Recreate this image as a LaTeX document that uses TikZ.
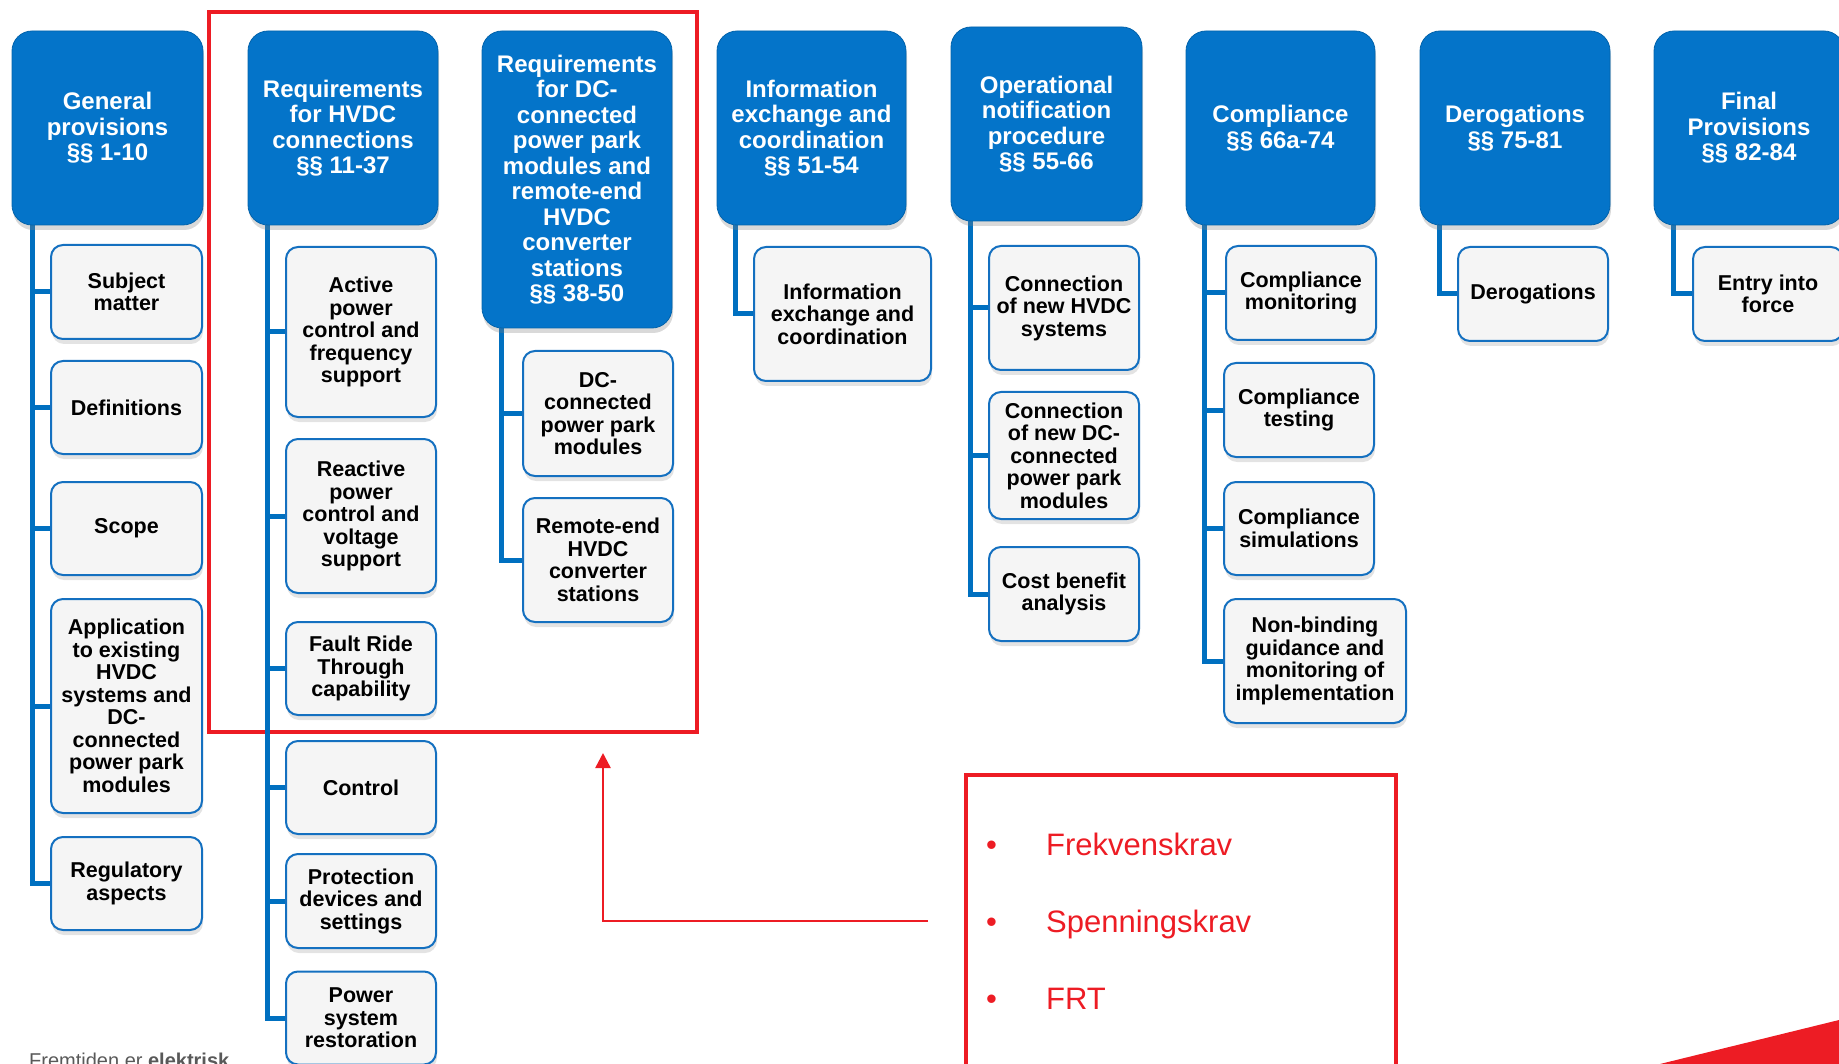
\documentclass[tikz,border=0pt]{standalone}
\usepackage{fontspec}
\setmainfont{Liberation Sans}
\usetikzlibrary{shadows,arrows.meta}
\definecolor{hblue}{RGB}{4,116,201}
\definecolor{cblue}{RGB}{0,112,192}
\definecolor{bblue}{RGB}{20,112,192}
\definecolor{cfill}{RGB}{245,245,245}
\definecolor{rred}{RGB}{237,28,36}
\definecolor{fgray}{RGB}{89,89,89}
\pgfdeclarelayer{bg}
\pgfsetlayers{bg,main}
\begin{document}
\begin{tikzpicture}[x=1pt,y=-1pt,
 hdr/.style={rectangle, rounded corners=20pt, fill=hblue, draw=hblue!85!black, line width=0.8pt,
   text=white, align=center, font=\bfseries\fontsize{24}{25.5}\selectfont, inner sep=2pt,
   drop shadow={shadow xshift=1pt, shadow yshift=-5pt, opacity=0.3}},
 chd/.style={rectangle, rounded corners=12pt, fill=cfill, draw=bblue, line width=2pt,
   text=black, align=center, font=\bfseries\fontsize{21.5}{22.5}\selectfont, inner sep=2pt,
   drop shadow={shadow xshift=1pt, shadow yshift=-5pt, opacity=0.22}},
 conn/.style={draw=cblue, line width=5pt},
 redframe/.style={draw=rred, line width=4pt},
 redarrow/.style={draw=rred, line width=2.5pt, -{Triangle[width=15pt,length=15pt]}},
 bultxt/.style={text=rred, font=\fontsize{31}{34}\selectfont, anchor=base west, inner sep=0pt},
 foot/.style={text=fgray, font=\fontsize{20}{22}\selectfont, anchor=base west, inner sep=0pt}
]
\useasboundingbox (0,0) rectangle (1839,1064);
\clip (0,0) rectangle (1839,1064);

% headers
\node[hdr, minimum width=191pt, minimum height=194pt] (gp) at (107.5,128) {General\\provisions\\§§ 1-10};
\node[hdr, minimum width=190pt, minimum height=194pt] (hv) at (343,128) {Requirements\\for HVDC\\connections\\§§ 11-37};
\node[hdr, minimum width=190pt, minimum height=297pt] (dc) at (577,179.5) {Requirements\\for DC-\\connected\\power park\\modules and\\remote-end\\HVDC\\converter\\stations\\§§ 38-50};
\node[hdr, minimum width=189pt, minimum height=194pt] (ie) at (811.5,128) {Information\\exchange and\\coordination\\§§ 51-54};
\node[hdr, minimum width=191pt, minimum height=194pt] (op) at (1046.5,124) {Operational\\notification\\procedure\\§§ 55-66};
\node[hdr, minimum width=189pt, minimum height=194pt] (co) at (1280.5,128) {Compliance\\§§ 66a-74};
\node[hdr, minimum width=190pt, minimum height=194pt] (de) at (1515,128) {Derogations\\§§ 75-81};
\node[hdr, minimum width=190pt, minimum height=194pt] (fp) at (1749,128) {Final\\Provisions\\§§ 82-84};

% general children
\node[chd, minimum width=151pt, minimum height=94pt] (gp1) at (126.5,292) {Subject\\matter};
\node[chd, minimum width=151pt, minimum height=93pt] (gp2) at (126.5,407.5) {Definitions};
\node[chd, minimum width=151pt, minimum height=93pt] (gp3) at (126.5,528.5) {Scope};
\node[chd, minimum width=151pt, minimum height=214pt] (gp4) at (126.5,706) {Application\\to existing\\HVDC\\systems and\\DC-\\connected\\power park\\modules};
\node[chd, minimum width=151pt, minimum height=93pt] (gp5) at (126.5,883.5) {Regulatory\\aspects};

% HVDC children
\node[chd, minimum width=150pt, minimum height=170pt] (hv1) at (361,332) {Active\\power\\control and\\frequency\\support};
\node[chd, minimum width=150pt, minimum height=154pt] (hv2) at (361,516) {Reactive\\power\\control and\\voltage\\support};
\node[chd, minimum width=150pt, minimum height=93pt] (hv3) at (361,668.5) {Fault Ride\\Through\\capability};
\node[chd, minimum width=150pt, minimum height=93pt] (hv4) at (361,787.5) {Control};
\node[chd, minimum width=150pt, minimum height=94pt] (hv5) at (361,901) {Protection\\devices and\\settings};
\node[chd, minimum width=150pt, minimum height=93pt] (hv6) at (361,1018) {Power\\system\\restoration};

% DC children
\node[chd, minimum width=150pt, minimum height=125pt] (dc1) at (598,413.5) {DC-\\connected\\power park\\modules};
\node[chd, minimum width=150pt, minimum height=124pt] (dc2) at (598,560) {Remote-end\\HVDC\\converter\\stations};

% information child
\node[chd, minimum width=177pt, minimum height=134pt] (ie1) at (842.5,314) {Information\\exchange and\\coordination};

% operational children
\node[chd, minimum width=150pt, minimum height=124pt] (op1) at (1064,308) {Connection\\of new HVDC\\systems};
\node[chd, minimum width=150pt, minimum height=127pt] (op2) at (1064,455.5) {Connection\\of new DC-\\connected\\power park\\modules};
\node[chd, minimum width=150pt, minimum height=94pt] (op3) at (1064,594) {Cost benefit\\analysis};

% compliance children
\node[chd, minimum width=150pt, minimum height=94pt] (co1) at (1301,293) {Compliance\\monitoring};
\node[chd, minimum width=150pt, minimum height=94pt] (co2) at (1299,410) {Compliance\\testing};
\node[chd, minimum width=150pt, minimum height=93pt] (co3) at (1299,528.5) {Compliance\\simulations};
\node[chd, minimum width=182pt, minimum height=124pt] (co4) at (1315,661) {Non-binding\\guidance and\\monitoring of\\implementation};

% derogations / final
\node[chd, minimum width=150pt, minimum height=94pt] (de1) at (1533,294) {Derogations};
\node[chd, minimum width=150pt, minimum height=94pt] (fp1) at (1768,294) {Entry into\\force};

% connectors and red frames behind
\begin{pgfonlayer}{bg}
\draw[redframe] (209,12) rectangle (697,732);
\draw[redframe] (966,775) rectangle (1396,1075);
\foreach \c in {gp1,gp2,gp3,gp4,gp5} \draw[conn] ([xshift=21pt]gp.south west) |- (\c.west);
\foreach \c in {hv1,hv2,hv3,hv4,hv5,hv6} \draw[conn] ([xshift=20pt]hv.south west) |- (\c.west);
\foreach \c in {dc1,dc2} \draw[conn] ([xshift=20pt]dc.south west) |- (\c.west);
\draw[conn] ([xshift=19pt]ie.south west) |- (ie1.west);
\foreach \c in {op1,op2,op3} \draw[conn] ([xshift=20pt]op.south west) |- (\c.west);
\foreach \c in {co1,co2,co3,co4} \draw[conn] ([xshift=19pt]co.south west) |- (\c.west);
\draw[conn] ([xshift=20pt]de.south west) |- (de1.west);
\draw[conn] ([xshift=20pt]fp.south west) |- (fp1.west);
\end{pgfonlayer}

% red arrow
\coordinate (arrS) at (928,921);
\coordinate (arrE) at (603,753);
\draw[redarrow] (arrS) -| (arrE);

% bullet list
\node[bultxt] (b1) at (986,855) {•};
\node[bultxt] (t1) at (1046,855) {Frekvenskrav};
\node[bultxt] (b2) at (986,932) {•};
\node[bultxt] (t2) at (1046,932) {Spenningskrav};
\node[bultxt] (b3) at (986,1009) {•};
\node[bultxt] (t3) at (1046,1009) {FRT};

% red corner triangle
\fill[rred] (1660,1064) -- (1839,1020) -- (1839,1070) -- (1660,1070) -- cycle;

% footer
\node[foot] (ft) at (29,1067) {Fremtiden er \textbf{elektrisk}};
\end{tikzpicture}
\end{document}
